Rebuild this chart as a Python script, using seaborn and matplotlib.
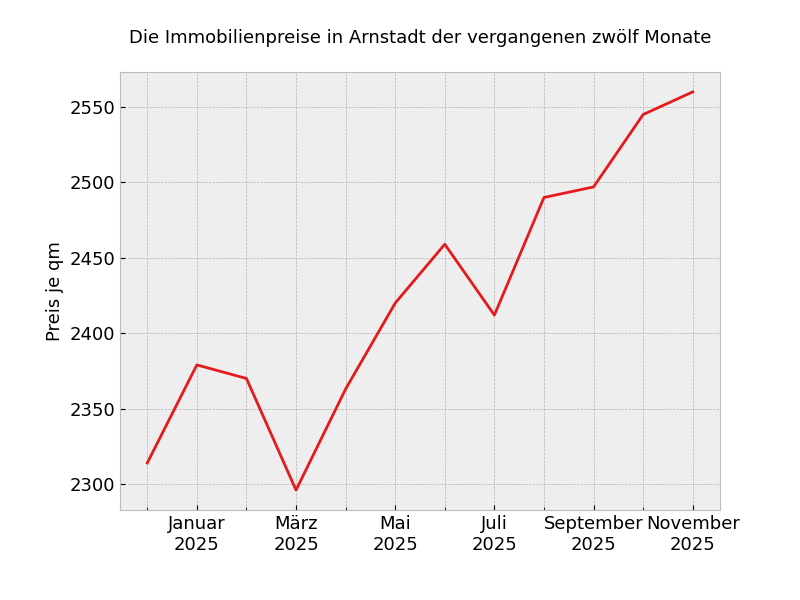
import matplotlib
matplotlib.use('Agg')
import matplotlib.pyplot as plt
from matplotlib.ticker import FixedLocator, MultipleLocator
import numpy as np
import pandas as pd
import seaborn as sns

month_labels = ['Dezember\n2024', 'Januar\n2025', 'Februar\n2025', 'März\n2025',
                'April\n2025', 'Mai\n2025', 'Juni\n2025', 'Juli\n2025',
                'August\n2025', 'September\n2025', 'Oktober\n2025', 'November\n2025']
prices = [2314, 2379, 2370, 2296, 2363, 2420, 2459, 2412, 2490, 2497, 2545, 2560]

df = pd.DataFrame({'Monat': np.arange(len(month_labels)), 'Preis': prices})

plt.style.use('bmh')
fig, ax = plt.subplots(figsize=(8, 6), dpi=100)
fig.subplots_adjust(left=0.15, bottom=0.15, right=0.9, top=0.88)

sns.lineplot(data=df, x='Monat', y='Preis', color='#E41A1C', linewidth=2, ax=ax)

# Hauptticks jeden zweiten Monat, Nebenticks jeden Monat
major = list(range(1, len(month_labels), 2))
ax.xaxis.set_major_locator(FixedLocator(major))
ax.xaxis.set_minor_locator(MultipleLocator(1))
ax.set_xticklabels([month_labels[i] for i in major])
ax.grid(True, which='both', axis='x')
ax.tick_params(labelsize=13)
ax.set_xlabel('')
ax.set_ylabel('Preis je qm', fontsize=13)
ax.set_title('Die Immobilienpreise in Arnstadt der vergangenen zwölf Monate', fontsize=13, pad=21)

plt.savefig('out.png')
